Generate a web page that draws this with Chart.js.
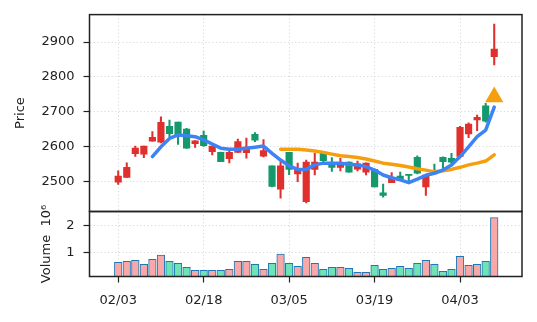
<!DOCTYPE html>
<html>
<head>
<meta charset="utf-8">
<script src="https://cdn.jsdelivr.net/npm/chart.js@4.4.1/dist/chart.umd.min.js"></script>
<style>
  html, body { margin: 0; padding: 0; background: #fff; }
  #wrap { position: relative; width: 537px; height: 322px; overflow: hidden; }
  .panel { position: absolute; left: 0; width: 537px; }
  #price-box { top: 0; height: 214px; }
  #vol-box { top: 200px; height: 122px; }
</style>
</head>
<body>
<div id="wrap">
  <div class="panel" id="price-box"><canvas id="price" width="537" height="214"></canvas></div>
  <div class="panel" id="vol-box"><canvas id="volume" width="537" height="122"></canvas></div>
</div>
<script>
// daily bars, one per trading session
const opens  = [2497, 2511, 2579, 2578, 2615, 2612, 2658, 2670, 2650, 2608,
                2632, 2585, 2583, 2565, 2583, 2582, 2635, 2572, 2544, 2477,
                2583, 2521, 2441, 2534, 2580, 2549, 2540, 2555, 2535, 2526,
                2534, 2467, 2496, 2515, 2520, 2569, 2484, 2530, 2569, 2566,
                2571, 2636, 2676, 2717, 2858];
const highs  = [2530, 2553, 2601, 2601, 2643, 2685, 2676, 2670, 2652, 2617,
                2644, 2601, 2584, 2590, 2621, 2624, 2640, 2620, 2544, 2556,
                2583, 2552, 2561, 2580, 2582, 2568, 2566, 2556, 2558, 2553,
                2535, 2492, 2525, 2526, 2520, 2573, 2518, 2549, 2570, 2580,
                2658, 2668, 2690, 2724, 2952];
const lows   = [2491, 2511, 2571, 2568, 2615, 2610, 2628, 2606, 2594, 2597,
                2600, 2576, 2556, 2553, 2583, 2566, 2614, 2570, 2484, 2451,
                2519, 2499, 2438, 2518, 2555, 2528, 2530, 2526, 2530, 2518,
                2484, 2454, 2496, 2505, 2497, 2521, 2459, 2524, 2534, 2550,
                2568, 2625, 2645, 2670, 2834];
const closes = [2515, 2540, 2595, 2601, 2626, 2669, 2637, 2628, 2595, 2616,
                2602, 2601, 2556, 2583, 2614, 2598, 2618, 2588, 2485, 2544,
                2534, 2537, 2555, 2555, 2559, 2540, 2552, 2526, 2550, 2552,
                2484, 2459, 2509, 2506, 2517, 2523, 2518, 2527, 2556, 2555,
                2655, 2664, 2684, 2673, 2880];
// volume in millions of shares
const volumes = [0.64, 0.675, 0.71, 0.56, 0.75, 0.9, 0.675, 0.6, 0.45, 0.34,
                 0.34, 0.34, 0.34, 0.375, 0.675, 0.675, 0.56, 0.375, 0.6, 0.94,
                 0.6, 0.49, 0.825, 0.6, 0.375, 0.45, 0.45, 0.41, 0.26, 0.26,
                 0.525, 0.375, 0.41, 0.49, 0.41, 0.6, 0.71, 0.56, 0.3, 0.375,
                 0.86, 0.525, 0.56, 0.675, 2.29];
// moving averages (5 and 20 sessions)
const ma5Start = 4;
const ma5 = [2571, 2599, 2623, 2633, 2631, 2628, 2619, 2607, 2595, 2592,
             2592, 2595, 2598, 2601, 2580, 2561, 2544, 2534, 2534, 2547,
             2552, 2552, 2552, 2549, 2547, 2542, 2532, 2518, 2510, 2504,
             2496, 2506, 2517, 2523, 2532, 2547, 2571, 2599, 2628, 2647, 2713];
const ma20Start = 19;
const ma20 = [2592, 2592, 2592, 2590, 2587, 2583, 2578, 2573, 2571, 2568,
              2564, 2558, 2552, 2549, 2545, 2541, 2536, 2532, 2527, 2530,
              2534, 2540, 2547, 2552, 2558, 2576];
// buy signal marker
const signalIndex = 44;
const signalPrice = 2742;

const xTickIndex = [0, 10, 20, 30, 40];
const xTickLabels = ['02/03', '02/18', '03/05', '03/19', '04/03'];
const priceTicks = [2500, 2600, 2700, 2800, 2900];
const volumeTicks = [1, 2];

const UP = '#e0302e';
const DOWN = '#13996c';
const UP_VOL = '#f8a8a8';
const DOWN_VOL = '#6fe2b6';
const GRID = '#d9d9d9';
const INK = '#222';

Chart.defaults.font.family = 'DejaVu Sans';
Chart.defaults.font.size = 13;
Chart.defaults.color = INK;

const isUp = closes.map((c, i) => c >= opens[i]);
const candleColors = isUp.map(u => (u ? UP : DOWN));
const volColors = isUp.map(u => (u ? UP_VOL : DOWN_VOL));

const X_MIN = -3.36;
const X_MAX = 47.25;

// box around the plotting area
const frame = {
  id: 'frame',
  afterDraw(chart) {
    const { ctx, chartArea: a } = chart;
    ctx.save();
    ctx.strokeStyle = INK;
    ctx.lineWidth = 1.5;
    ctx.strokeRect(a.left, a.top, a.right - a.left, a.bottom - a.top);
    ctx.restore();
  }
};

// keep the label overflow from pushing the plot area around
function noPadding(s) {
  s.paddingTop = 0;
  s.paddingBottom = 0;
  s.paddingLeft = 0;
  s.paddingRight = 0;
}

function gridOpts(drawTicks) {
  return {
    color: GRID,
    lineWidth: 1,
    offset: false,
    drawTicks: drawTicks,
    tickLength: 6,
    tickColor: INK,
    tickWidth: 1.2
  };
}

function xAxis(showLabels) {
  return {
    type: 'linear',
    min: X_MIN,
    max: X_MAX,
    offset: false,
    afterBuildTicks: s => { s.ticks = xTickIndex.map(v => ({ value: v })); },
    afterFit: s => { s.height = showLabels ? 45.5 : 0; noPadding(s); },
    ticks: {
      display: showLabels,
      padding: 10,
      maxRotation: 0,
      callback: v => xTickLabels[xTickIndex.indexOf(v)]
    },
    grid: gridOpts(showLabels),
    border: { display: false, dash: [1.2, 2.4] }
  };
}

function yAxis(min, max, ticks, title, titlePad) {
  return {
    type: 'linear',
    min: min,
    max: max,
    afterBuildTicks: s => { s.ticks = ticks.map(v => ({ value: v })); },
    afterFit: s => { s.width = 89.5; noPadding(s); },
    ticks: { padding: 9, callback: v => String(v) },
    grid: gridOpts(true),
    border: { display: false, dash: [1.2, 2.4] },
    title: { display: true, text: title, padding: { top: titlePad, bottom: 0 } }
  };
}

// price panel: candles + moving averages
new Chart(document.getElementById('price'), {
  type: 'bar',
  data: {
    datasets: [
      {
        type: 'line',
        data: ma5.map((v, k) => ({ x: k + ma5Start, y: v })),
        borderColor: '#3d83f5',
        borderWidth: 3.5,
        pointRadius: 0,
        borderCapStyle: 'round',
        borderJoinStyle: 'round',
        order: 0
      },
      {
        type: 'line',
        data: ma20.map((v, k) => ({ x: k + ma20Start, y: v })),
        borderColor: '#f59f0e',
        borderWidth: 3.5,
        pointRadius: 0,
        borderCapStyle: 'round',
        borderJoinStyle: 'round',
        order: 0
      },
      {
        type: 'line',
        data: [{ x: signalIndex, y: signalPrice }],
        showLine: false,
        pointStyle: 'triangle',
        pointRadius: 10.5,
        pointBackgroundColor: '#f59f0e',
        pointBorderWidth: 0,
        order: 0
      },
      {
        data: opens.map((o, i) => ({ x: i, y: [o, closes[i]] })),
        backgroundColor: candleColors,
        barThickness: 6.5,
        grouped: false,
        order: 1
      },
      {
        data: lows.map((l, i) => ({ x: i, y: [l, highs[i]] })),
        backgroundColor: candleColors,
        barThickness: 1.4,
        grouped: false,
        order: 2
      }
    ]
  },
  options: {
    responsive: false,
    animation: false,
    layout: { autoPadding: false, padding: { top: 14.6, right: 15, bottom: 2.5, left: 0 } },
    plugins: { legend: { display: false }, tooltip: { enabled: false } },
    scales: {
      x: xAxis(false),
      y: yAxis(2413, 2979, priceTicks, 'Price', 13)
    }
  },
  plugins: [frame]
});

// volume panel
new Chart(document.getElementById('volume'), {
  type: 'bar',
  data: {
    datasets: [{
      data: volumes.map((v, i) => ({ x: i, y: v })),
      backgroundColor: volColors,
      borderColor: '#1f77b4',
      borderWidth: 1,
      borderSkipped: false,
      barThickness: 7.6,
      clip: 0
    }]
  },
  options: {
    responsive: false,
    animation: false,
    layout: { autoPadding: false, padding: { top: 11.5, right: 15, bottom: 0, left: 0 } },
    plugins: { legend: { display: false }, tooltip: { enabled: false } },
    scales: {
      x: xAxis(true),
      y: yAxis(0.11, 2.52, volumeTicks, 'Volume  10\u2076', 38.5)
    }
  },
  plugins: [frame]
});
</script>
</body>
</html>
